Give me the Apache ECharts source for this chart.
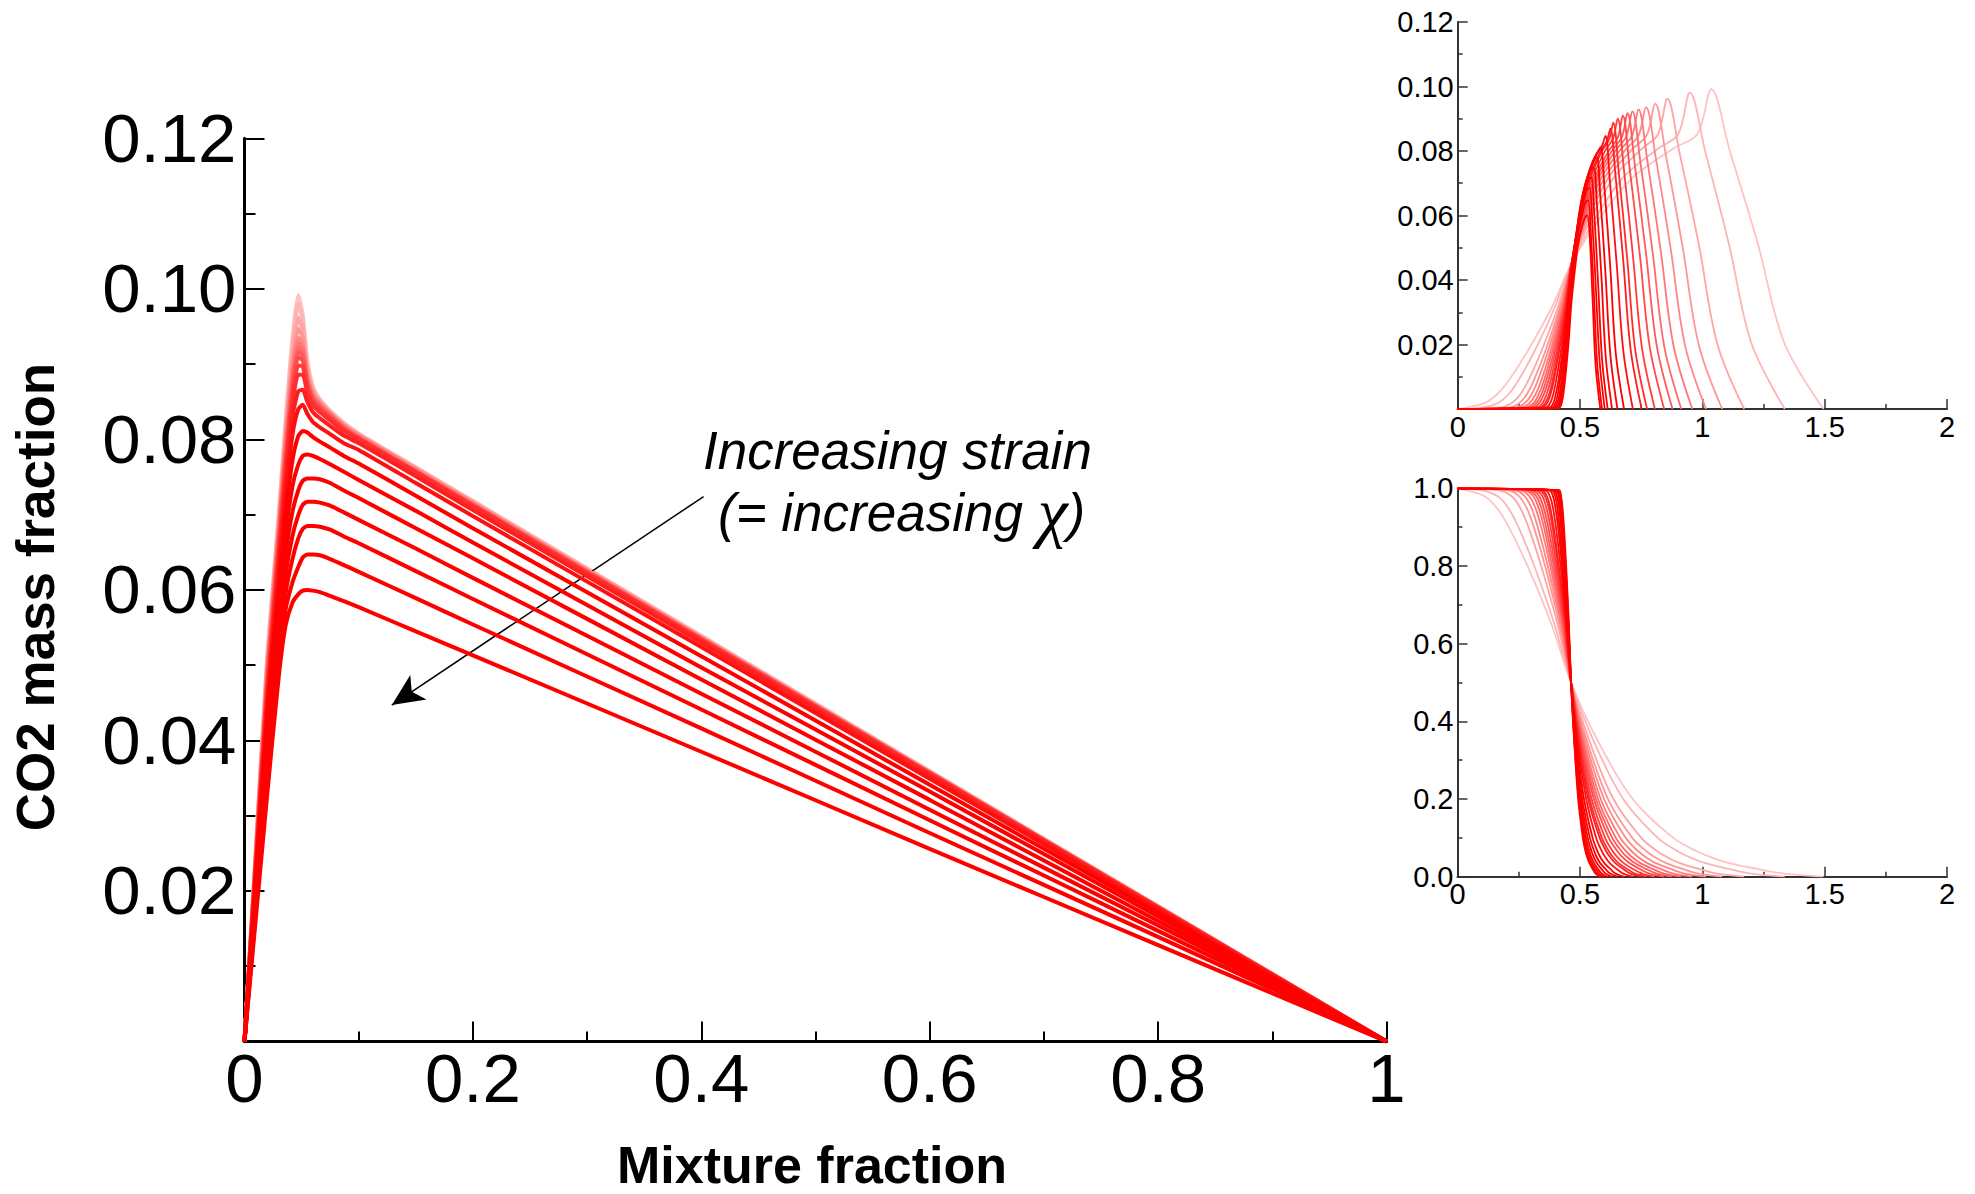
<!DOCTYPE html>
<html><head><meta charset="utf-8">
<script src="https://cdn.jsdelivr.net/npm/echarts@6/dist/echarts.min.js"></script>
<style>html,body{margin:0;padding:0;background:#fff}#c{width:1975px;height:1194px}</style>
</head><body><div id="c"></div>
<script>
// ---------- main chart: CO2 mass fraction vs mixture fraction ----------
const zMain = [0, 0.01, 0.02, 0.03, 0.036, 0.042, 0.047, 0.051, 0.055, 0.06, 0.066, 0.075, 0.087, 0.1, 0.15, 0.2, 0.4, 0.6, 0.8, 1];
// curve 01 = lowest strain (lightest) ... curve 20 = highest strain (darkest)
const co2Main01 = [0, .0256, .0515, .070, .0825, .0935, .0992, .0965, .0905, .0870, .0853, .0838, .0822, .0808, .0763, .0718, .0539, .0359, .0180, 0];
const co2Main02 = [0, .0254, .051, .0695, .0818, .0925, .0981, .0958, .0900, .0868, .0852, .0837, .0821, .0807, .0762, .0718, .0538, .0359, .0179, 0];
const co2Main03 = [0, .0252, .0505, .069, .081, .0912, .0962, .0945, .0893, .0865, .0851, .0836, .0820, .0806, .0762, .0717, .0538, .0358, .0179, 0];
const co2Main04 = [0, .025, .050, .0685, .0803, .0902, .0947, .0935, .0888, .0862, .0849, .0835, .0819, .0806, .0761, .0716, .0537, .0358, .0179, 0];
const co2Main05 = [0, .0248, .0495, .068, .0797, .0893, .0935, .0927, .0885, .0860, .0848, .0834, .0818, .0805, .0760, .0715, .0536, .0358, .0179, 0];
const co2Main06 = [0, .0246, .049, .0675, .079, .0885, .0928, .0921, .0882, .0858, .0846, .0833, .0817, .0804, .0759, .0714, .0536, .0357, .0179, 0];
const co2Main07 = [0, .0244, .0485, .067, .0783, .0878, .0922, .0916, .0879, .0856, .0845, .0832, .0816, .0803, .0758, .0714, .0535, .0357, .0178, 0];
const co2Main08 = [0, .0242, .048, .0665, .0777, .0872, .0916, .0911, .0876, .0854, .0843, .0831, .0815, .0802, .0757, .0713, .0535, .0356, .0178, 0];
const co2Main09 = [0, .024, .0475, .066, .077, .0865, .0909, .0905, .0872, .0852, .0841, .0829, .0814, .0801, .0757, .0712, .0534, .0356, .0178, 0];
const co2Main10 = [0, .0237, .047, .0653, .0763, .0857, .0898, .0897, .0868, .0849, .0839, .0828, .0813, .0801, .0757, .0712, .0534, .0356, .0178, 0];
const co2Main11 = [0, .0234, .0465, .0646, .0755, .0848, .0886, .0886, .0862, .0845, .0836, .0825, .0811, .0800, .0756, .0711, .0533, .0356, .0178, 0];
const co2Main12 = [0, .023, .0457, .0635, .0742, .0830, .0864, .0866, .0850, .0836, .0828, .0818, .0805, .0795, .0751, .0706, .0530, .0353, .0177, 0];
const co2Main13 = [0, .0225, .0448, .0622, .0725, .0806, .0840, .0846, .0834, .0823, .0816, .0807, .0795, .0786, .0742, .0698, .0524, .0349, .0175, 0];
const co2Main14 = [0, .0218, .0435, .0603, .0700, .0772, .0804, .0811, .0809, .0803, .0797, .0789, .0778, .0768, .0725, .0682, .0512, .0341, .0171, 0];
const co2Main15 = [0, .0210, .0420, .0583, .0674, .0738, .0766, .0778, .0780, .0778, .0774, .0767, .0757, .0746, .0705, .0663, .0497, .0332, .0166, 0];
const co2Main16 = [0, .0202, .0404, .0563, .0647, .0704, .0732, .0745, .0748, .0748, .0747, .0742, .0732, .0722, .0682, .0642, .0481, .0321, .0160, 0];
const co2Main17 = [0, .0194, .0388, .0543, .0621, .0672, .0699, .0713, .0717, .0717, .0716, .0712, .0703, .0693, .0655, .0616, .0462, .0308, .0154, 0];
const co2Main18 = [0, .0185, .0370, .0523, .0596, .0641, .0668, .0681, .0685, .0685, .0684, .0680, .0671, .0662, .0625, .0588, .0441, .0294, .0147, 0];
const co2Main19 = [0, .0176, .0352, .0504, .0574, .0610, .0630, .0643, .0647, .0647, .0646, .0641, .0633, .0624, .0589, .0554, .0416, .0277, .0139, 0];
const co2Main20 = [0, .0165, .0330, .0485, .0553, .0583, .0594, .0599, .0600, .0599, .0597, .0592, .0585, .0577, .0545, .0513, .0385, .0256, .0128, 0];

// ---------- insets: profiles vs physical coordinate ----------
// mixture fraction levels shared by the position lists (bottom inset y values)
const zLevels = [1, 0.995, 0.98, 0.95, 0.9, 0.8, 0.65, 0.5, 0.35, 0.2, 0.1, 0.065, 0.05, 0.035, 0.02, 0.008, 0];
const pos01 = [0, .034, .109, .160, .210, .286, .384, .464, .573, .716, .882, .980, 1.037, 1.111, 1.226, 1.335, 1.495];
const pos02 = [0, .100, .163, .207, .249, .314, .396, .464, .556, .677, .818, .901, .949, 1.012, 1.109, 1.201, 1.337];
const pos03 = [0, .169, .220, .256, .290, .342, .409, .464, .539, .637, .751, .818, .857, .908, .987, 1.061, 1.171];
const pos04 = [0, .207, .251, .282, .312, .358, .416, .464, .529, .615, .714, .773, .807, .852, .920, .985, 1.081];
const pos05 = [0, .234, .274, .302, .328, .369, .421, .464, .522, .599, .687, .739, .770, .810, .871, .929, 1.015];
const pos06 = [0, .258, .293, .318, .342, .379, .425, .464, .516, .585, .665, .712, .739, .775, .830, .882, .959];
const pos07 = [0, .276, .309, .331, .353, .386, .429, .464, .512, .574, .647, .689, .714, .747, .797, .844, .914];
const pos08 = [0, .291, .321, .342, .362, .393, .432, .464, .508, .565, .632, .671, .694, .724, .770, .814, .878];
const pos09 = [0, .306, .333, .352, .371, .399, .434, .464, .504, .557, .618, .654, .675, .702, .745, .785, .844];
const pos10 = [0, .321, .346, .363, .380, .405, .437, .464, .500, .548, .603, .635, .654, .679, .717, .753, .806];
const pos11 = [0, .335, .357, .373, .388, .411, .440, .464, .497, .540, .590, .619, .636, .658, .693, .725, .774];
const pos12 = [0, .344, .365, .379, .393, .414, .442, .464, .494, .534, .581, .608, .624, .645, .677, .707, .752];
const pos13 = [0, .359, .377, .390, .402, .421, .444, .464, .491, .526, .566, .590, .604, .622, .650, .677, .716];
const pos14 = [0, .374, .390, .400, .411, .427, .447, .464, .487, .517, .552, .572, .584, .600, .624, .646, .680];
const pos15 = [0, .385, .399, .408, .417, .431, .449, .464, .484, .510, .541, .559, .569, .583, .604, .624, .653];
const pos16 = [0, .394, .406, .415, .423, .435, .451, .464, .482, .505, .532, .548, .557, .569, .588, .605, .631];
const pos17 = [0, .402, .413, .420, .427, .438, .452, .464, .480, .501, .525, .539, .547, .558, .574, .590, .613];
const pos18 = [0, .407, .417, .424, .430, .440, .453, .464, .478, .497, .519, .532, .540, .550, .565, .580, .601];
const pos19 = [0, .411, .421, .427, .433, .442, .454, .464, .477, .495, .515, .527, .534, .543, .557, .570, .590];
const pos20 = [0, .414, .423, .429, .435, .444, .455, .464, .477, .493, .512, .523, .530, .539, .552, .564, .583];
// top inset: CO2 at the same positions
const co2Ins01 = [0, .0004, .0018, .0045, .0090, .0180, .0314, .0449, .0584, .0718, .0808, .0853, .0992, .0804, .0515, .0205, 0];
const co2Ins02 = [0, .0004, .0018, .0045, .0090, .0179, .0314, .0449, .0583, .0718, .0807, .0852, .0981, .0798, .0510, .0203, 0];
const co2Ins03 = [0, .0004, .0018, .0045, .0090, .0179, .0314, .0448, .0582, .0717, .0806, .0851, .0962, .0790, .0505, .0202, 0];
const co2Ins04 = [0, .0004, .0018, .0045, .0090, .0179, .0313, .0448, .0582, .0716, .0806, .0849, .0947, .0783, .0500, .0200, 0];
const co2Ins05 = [0, .0004, .0018, .0045, .0089, .0179, .0313, .0447, .0581, .0715, .0805, .0848, .0936, .0777, .0495, .0198, 0];
const co2Ins06 = [0, .0004, .0018, .0045, .0089, .0179, .0313, .0447, .0580, .0714, .0804, .0846, .0929, .0771, .0490, .0197, 0];
const co2Ins07 = [0, .0004, .0018, .0045, .0089, .0178, .0312, .0446, .0580, .0714, .0803, .0845, .0923, .0764, .0485, .0195, 0];
const co2Ins08 = [0, .0004, .0018, .0045, .0089, .0178, .0312, .0446, .0579, .0713, .0802, .0843, .0917, .0757, .0480, .0194, 0];
const co2Ins09 = [0, .0004, .0018, .0045, .0089, .0178, .0312, .0445, .0579, .0712, .0801, .0841, .0910, .0752, .0475, .0192, 0];
const co2Ins10 = [0, .0004, .0018, .0045, .0089, .0178, .0312, .0445, .0579, .0712, .0801, .0839, .0900, .0745, .0470, .0190, 0];
const co2Ins11 = [0, .0004, .0018, .0044, .0089, .0178, .0311, .0445, .0578, .0711, .0800, .0836, .0888, .0737, .0465, .0187, 0];
const co2Ins12 = [0, .0004, .0018, .0044, .0088, .0177, .0309, .0442, .0574, .0706, .0795, .0828, .0869, .0724, .0457, .0184, 0];
const co2Ins13 = [0, .0004, .0017, .0044, .0087, .0175, .0306, .0437, .0567, .0698, .0786, .0816, .0847, .0707, .0448, .0180, 0];
const co2Ins14 = [0, .0004, .0017, .0043, .0085, .0171, .0299, .0427, .0554, .0682, .0768, .0797, .0812, .0684, .0435, .0174, 0];
const co2Ins15 = [0, .0004, .0017, .0041, .0083, .0166, .0290, .0415, .0539, .0663, .0746, .0774, .0780, .0659, .0420, .0168, 0];
const co2Ins16 = [0, .0004, .0016, .0040, .0080, .0160, .0281, .0401, .0521, .0642, .0722, .0747, .0748, .0633, .0404, .0162, 0];
const co2Ins17 = [0, .0004, .0015, .0039, .0077, .0154, .0270, .0385, .0501, .0616, .0693, .0716, .0717, .0609, .0388, .0155, 0];
const co2Ins18 = [0, .0004, .0015, .0037, .0074, .0147, .0257, .0368, .0478, .0588, .0662, .0684, .0685, .0584, .0370, .0148, 0];
const co2Ins19 = [0, .0003, .0014, .0035, .0069, .0139, .0243, .0347, .0450, .0554, .0624, .0646, .0647, .0563, .0352, .0141, 0];
const co2Ins20 = [0, .0003, .0013, .0032, .0064, .0128, .0224, .0321, .0417, .0513, .0577, .0597, .0600, .0543, .0330, .0132, 0];

// annotation arrow (data coordinates of the main chart)
const arrowFrom = [0.402, 0.0724];
const arrowTo = [0.129, 0.0447];

// ---------------------------------------------------------------
const co2MainList = [co2Main01,co2Main02,co2Main03,co2Main04,co2Main05,co2Main06,co2Main07,co2Main08,co2Main09,co2Main10,co2Main11,co2Main12,co2Main13,co2Main14,co2Main15,co2Main16,co2Main17,co2Main18,co2Main19,co2Main20];
const posList = [pos01,pos02,pos03,pos04,pos05,pos06,pos07,pos08,pos09,pos10,pos11,pos12,pos13,pos14,pos15,pos16,pos17,pos18,pos19,pos20];
const co2InsList = [co2Ins01,co2Ins02,co2Ins03,co2Ins04,co2Ins05,co2Ins06,co2Ins07,co2Ins08,co2Ins09,co2Ins10,co2Ins11,co2Ins12,co2Ins13,co2Ins14,co2Ins15,co2Ins16,co2Ins17,co2Ins18,co2Ins19,co2Ins20];

const FONT = "'Liberation Sans', Arial, Helvetica, sans-serif";
function colorOf(k) { const g = Math.max(0, Math.round(195 - 15 * k)); return 'rgb(255,' + g + ',' + g + ')'; }
function zip(xs, ys) { return xs.map((x, i) => [x, ys[i]]); }

function axisCommon(color, lw, tickLen, minorLen, fontSize, margin, formatter) {
  return {
    type: 'value',
    axisLine: { show: true, onZero: false, lineStyle: { color: color, width: lw } },
    axisTick: { show: true, inside: true, length: tickLen, lineStyle: { color: color, width: Math.max(1.5, lw - 1) } },
    minorTick: { show: true, splitNumber: 2, length: minorLen, lineStyle: { color: color, width: Math.max(1.5, lw - 1) } },
    splitLine: { show: false },
    minorSplitLine: { show: false },
    axisLabel: { color: '#000', fontSize: fontSize, fontFamily: FONT, margin: margin, formatter: formatter, hideOverlap: false }
  };
}

const series = [];
co2MainList.forEach((arr, k) => {
  series.push({
    type: 'line', xAxisIndex: 0, yAxisIndex: 0, data: zip(zMain, arr), showSymbol: false, symbol: 'none',
    smooth: 0.2, lineStyle: { color: colorOf(k), width: 4 }, silent: true, animation: false, z: 2 + k
  });
});
posList.forEach((xs, k) => {
  series.push({
    type: 'line', xAxisIndex: 1, yAxisIndex: 1, data: zip(xs, co2InsList[k]), showSymbol: false, symbol: 'none',
    smooth: 0.35, lineStyle: { color: colorOf(k), width: 1.8 }, silent: true, animation: false, z: 2 + k
  });
  series.push({
    type: 'line', xAxisIndex: 2, yAxisIndex: 2, data: zip(xs, zLevels), showSymbol: false, symbol: 'none',
    smooth: 0.35, lineStyle: { color: colorOf(k), width: 1.8 }, silent: true, animation: false, z: 2 + k
  });
});
series.push({
  type: 'line', xAxisIndex: 0, yAxisIndex: 0, data: [], silent: true, animation: false, z: 40,
  markLine: {
    silent: true, animation: false, symbol: ['none', 'arrow'], symbolSize: [22, 32],
    lineStyle: { color: '#000', width: 1.5, type: 'solid' }, label: { show: false }, emphasis: { disabled: true },
    data: [[{ coord: arrowFrom }, { coord: arrowTo }]]
  }
});

const fmtMainX = v => (v === 0 ? '0' : v === 1 ? '1' : String(+v.toFixed(1)));
const fmtY2 = v => (v === 0 ? '' : v.toFixed(2));
const fmtInsX = v => String(+v.toFixed(2));
const fmtY1 = v => v.toFixed(1);

const option = {
  backgroundColor: '#fff',
  animation: false,
  grid: [
    { left: 244.5, top: 138.3, width: 1142, height: 903.2, containLabel: false },
    { left: 1457.7, top: 22, width: 489.3, height: 387, containLabel: false },
    { left: 1457.5, top: 488.3, width: 489.5, height: 388.4, containLabel: false }
  ],
  xAxis: [
    Object.assign(axisCommon('#000', 3, 20, 10, 69, 2, fmtMainX), { gridIndex: 0, min: 0, max: 1, interval: 0.2 }),
    Object.assign(axisCommon('#333', 2, 10, 5, 29, 3, fmtInsX), { gridIndex: 1, min: 0, max: 2, interval: 0.5 }),
    Object.assign(axisCommon('#333', 2, 10, 5, 29, 3, fmtInsX), { gridIndex: 2, min: 0, max: 2, interval: 0.5 })
  ],
  yAxis: [
    Object.assign(axisCommon('#000', 3, 20, 11, 69, 8, fmtY2), { gridIndex: 0, min: 0, max: 0.12, interval: 0.02 }),
    Object.assign(axisCommon('#333', 2, 10, 5, 29, 4, fmtY2), { gridIndex: 1, min: 0, max: 0.12, interval: 0.02 }),
    Object.assign(axisCommon('#333', 2, 10, 5, 29, 4, fmtY1), { gridIndex: 2, min: 0, max: 1, interval: 0.2 })
  ],
  series: series,
  graphic: [
    { type: 'text', x: 35, y: 597, rotation: Math.PI / 2, silent: true,
      style: { text: 'CO2 mass fraction', fontSize: 53, fontWeight: 'bold', fontFamily: FONT, fill: '#000',
               align: 'center', verticalAlign: 'middle', textAlign: 'center', textVerticalAlign: 'middle' } },
    { type: 'text', x: 812, y: 1165, silent: true,
      style: { text: 'Mixture fraction', fontSize: 52, fontWeight: 'bold', fontFamily: FONT, fill: '#000',
               align: 'center', verticalAlign: 'middle', textAlign: 'center', textVerticalAlign: 'middle' } },
    { type: 'text', x: 703, y: 450, silent: true,
      style: { text: 'Increasing strain', fontSize: 53, lineHeight: 54, fontStyle: 'italic', fontFamily: FONT, fill: '#000',
               align: 'left', verticalAlign: 'middle', textAlign: 'left', textVerticalAlign: 'middle' } },
    { type: 'text', x: 718, y: 512, silent: true,
      style: { text: '(= increasing {chi|χ})', fontSize: 53, lineHeight: 54, fontStyle: 'italic', fontFamily: FONT, fill: '#000',
               align: 'left', verticalAlign: 'middle', textAlign: 'left', textVerticalAlign: 'middle',
               rich: { chi: { fontSize: 68, lineHeight: 54, fontStyle: 'italic', fontFamily: "'Liberation Serif', 'DejaVu Serif', serif", fill: '#000' } } } }
  ]
};

const chart = echarts.init(document.getElementById('c'), null, { renderer: 'svg' });
chart.setOption(option);
</script>
</body></html>
